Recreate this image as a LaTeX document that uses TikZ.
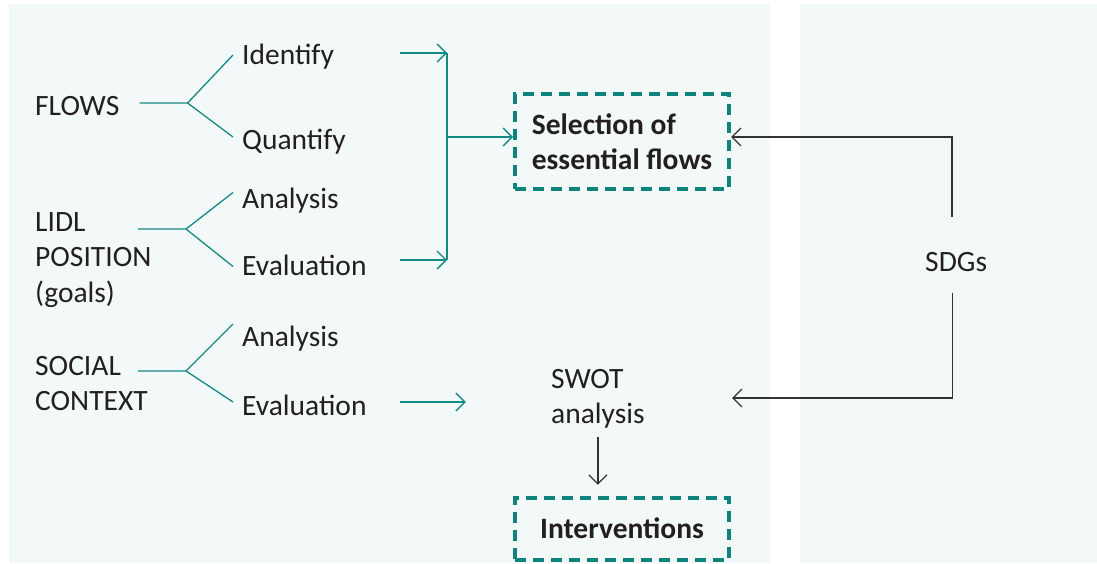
\documentclass[tikz,border=0pt]{standalone}
\usepackage{fontspec}
\setmainfont{Carlito}
\usetikzlibrary{arrows.meta}
\definecolor{tealc}{HTML}{138A85}
\definecolor{boxc}{HTML}{0E837C}
\definecolor{inkc}{HTML}{231F20}
\definecolor{panelc}{HTML}{F3F9F9}
\definecolor{arrc}{HTML}{333333}
\newcommand\fs{\fontsize{29.5}{35.5}\selectfont}
\begin{document}
\begin{tikzpicture}[x=1pt,y=-1pt,
        >={Straight Barb[length=9pt,width=18pt]},
        every node/.style={inner sep=0pt,text=inkc,font=\fs},
        lbl/.style={anchor=west,text height=18pt,text depth=0pt},
        multi/.style={anchor=north west,align=left},
        keybox/.style={draw=boxc,line width=4pt,dash pattern=on 11pt off 7pt,
            minimum width=214,minimum height=95,align=left,font=\fs\bfseries},
        branch/.style={draw=tealc,line width=1.3pt},
        tarrow/.style={draw=tealc,line width=1.3pt,->},
        karrow/.style={draw=arrc,line width=1.3pt,->}]
    \useasboundingbox (0,0) rectangle (1097,563);
    \fill[panelc] (9,4) rectangle (770,563);
    \fill[panelc] (800,4) rectangle (1097,563);

    \node[lbl] (flows) at (35,106) {FLOWS};
    \node[lbl] (ident) at (242,55) {Identify};
    \node[lbl] (quant) at (242,140) {Quantify};

    \node[multi] (lidl) at (35,212) {LIDL\\POSITION\\(goals)};
    \node[lbl] (ana1) at (242,199.5) {Analysis};
    \node[lbl] (eval1) at (242,266.5) {Evaluation};

    \node[multi] (social) at (35,356) {SOCIAL\\CONTEXT};
    \node[lbl] (ana2) at (242,337) {Analysis};
    \node[lbl] (eval2) at (242,406) {Evaluation};

    \node[keybox] (select) at (622,141.5) {Selection of\\essential flows};
    \node[multi] (swot) at (551,369) {SWOT\\analysis};
    \node[keybox,minimum height=62] (interv) at (622,528.5) {Interventions};
    \node[lbl] (sdg) at (925,262.5) {SDGs};

    \coordinate (bartop) at (447,53);
    \coordinate (barbot) at (447,260);
    \coordinate (swotr) at (732,398);

    \draw[branch] ([shift={(20,-3)}]flows.east) -- ++(48,0) coordinate (fj)
        -- ([xshift=-9pt]ident.west);
    \draw[branch] (fj) -- ([shift={(-9,-3)}]quant.west);
    \draw[branch] ([shift={(103,17)}]lidl.north west) -- ++(48,0) coordinate (lj)
        -- ([shift={(-9,-7)}]ana1.west);
    \draw[branch] (lj) -- ([xshift=-9pt]eval1.west);
    \draw[branch] ([shift={(103,15)}]social.north west) -- ++(48,0) coordinate (sj)
        -- ([shift={(-9,-13)}]ana2.west);
    \draw[branch] (sj) -- ([shift={(-9,-4)}]eval2.west);

    \draw[branch] (bartop) -- (barbot);
    \draw[tarrow] (bartop) ++(-47,0) -- (bartop);
    \draw[tarrow] (barbot) ++(-47,0) -- (barbot);
    \draw[tarrow] (bartop |- select.west) ++(0,-4.5) -- ([yshift=4.5pt]select.west);
    \draw[tarrow] ([shift={(33,-4)}]eval2.east) -- ++(66,0);

    \draw[karrow] ([shift={(-4,-36.5)}]sdg.north) |- ([yshift=4.5pt]select.east);
    \draw[karrow] ([shift={(-3.5,21.5)}]sdg.south) |- (swotr);
    \draw[karrow] ([yshift=-8pt]swot.south) -- ++(0,48);
\end{tikzpicture}
\end{document}
